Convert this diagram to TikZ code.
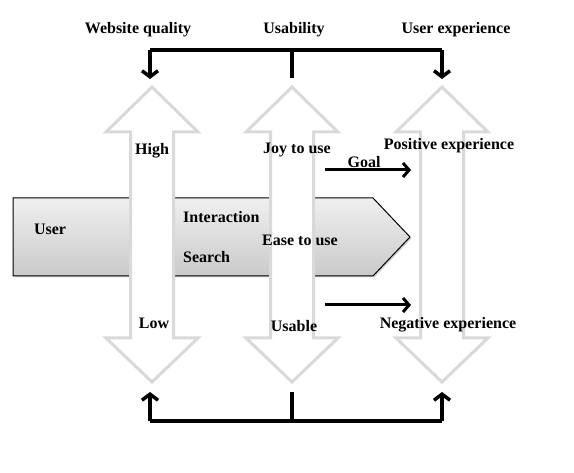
\documentclass[tikz,border=0pt]{standalone}
\usepackage{fontspec}
\setmainfont{Liberation Serif}
\usetikzlibrary{arrows.meta,shadows}
\definecolor{arrgray}{RGB}{217,217,217}
\tikzset{
  lbl/.style={font=\fontsize{16}{19}\selectfont\bfseries, inner sep=0pt},
  dblarrow/.style={draw=arrgray, line width=3pt, fill=white, line join=miter},
  chev/.style={draw=black, line width=1pt, top color=gray!12, bottom color=gray!42, drop shadow={opacity=0.35, shadow xshift=1.5pt, shadow yshift=-1.5pt}},
  bracket/.style={line width=3.5pt, line join=miter},
  barb/.style={-{Straight Barb[length=6pt,width=16pt]}},
  goalarr/.style={line width=3pt, -{Straight Barb[length=6pt,width=14pt]}}
}
\begin{document}
\begin{tikzpicture}[x=1pt,y=-1pt]
\useasboundingbox (0,0) rectangle (574,473);
% chevron
\draw[chev] (13,198) -- (373,198) -- (410,237) -- (373,276) -- (13,276) -- cycle;
% double arrows
\foreach \cx in {152,292,442}{
  \draw[dblarrow] (\cx,87) -- (\cx+46,132) -- (\cx+21.5,132) -- (\cx+21.5,338) -- (\cx+46,338)
    -- (\cx,382) -- (\cx-46,338) -- (\cx-21.5,338) -- (\cx-21.5,132) -- (\cx-46,132) -- cycle;
}
% bracket coordinates
\coordinate (tl) at (150,50);
\coordinate (tm) at (292,50);
\coordinate (tr) at (442,50);
\coordinate (tla) at (150,79);
\coordinate (tma) at (292,78);
\coordinate (tra) at (442,79);
\coordinate (bl) at (150,421);
\coordinate (bm) at (292,421);
\coordinate (br) at (442,421);
\coordinate (bla) at (150,392);
\coordinate (bma) at (292,392);
\coordinate (bra) at (442,392);
\draw[bracket] (tl) -- (tr);
\draw[bracket, barb] (tl) -- (tla);
\draw[bracket, barb] (tr) -- (tra);
\draw[bracket] (tm) -- (tma);
\draw[bracket] (bl) -- (br);
\draw[bracket, barb] (bl) -- (bla);
\draw[bracket, barb] (br) -- (bra);
\draw[bracket] (bm) -- (bma);
% goal arrows
\coordinate (g1s) at (325,170);
\coordinate (g1e) at (411,170);
\coordinate (g2s) at (325,305);
\coordinate (g2e) at (411,305);
\draw[goalarr] (g1s) -- (g1e);
\draw[goalarr] (g2s) -- (g2e);
% labels
\node[lbl] (wq) at (138,30) {Website quality};
\node[lbl] (us) at (294,30) {Usability};
\node[lbl] (ux) at (456,30) {User experience};
\node[lbl] (hi) at (152,151) {High};
\node[lbl] (joy) at (297,150) {Joy to use};
\node[lbl] (pos) at (449,146) {Positive experience};
\node[lbl] (goal) at (364,162) {Goal};
\node[lbl] (user) at (50,229) {User};
\node[lbl, anchor=west] (inter) at (183,217) {Interaction};
\node[lbl, anchor=west] (search) at (183,257) {Search};
\node[lbl] (ease) at (300,240) {Ease to use};
\node[lbl] (low) at (154,323) {Low};
\node[lbl] (usable) at (294,326) {Usable};
\node[lbl] (neg) at (448,325) {Negative experience};
\end{tikzpicture}
\end{document}
